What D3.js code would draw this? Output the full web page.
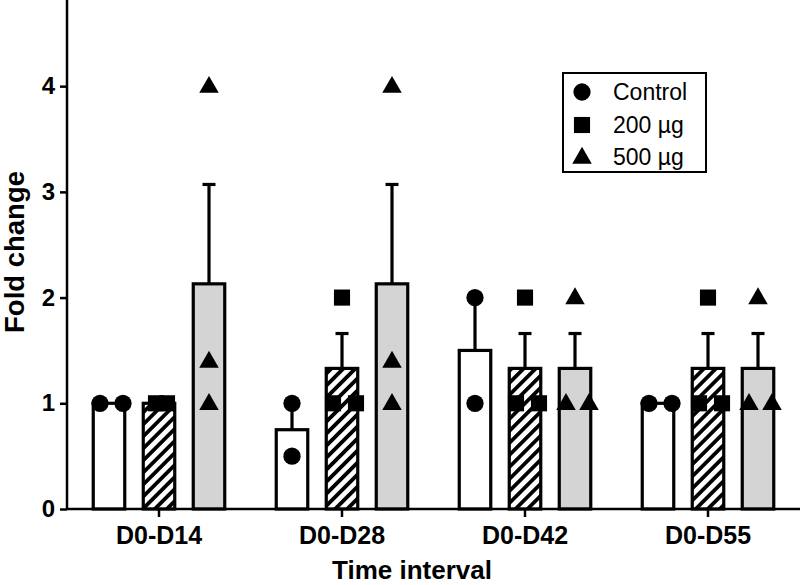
<!DOCTYPE html>
<html>
<head>
<meta charset="utf-8">
<script src="https://cdn.jsdelivr.net/npm/d3@7"></script>
<style>
  html, body { margin: 0; padding: 0; background: #fff; }
  svg { display: block; font-family: "Liberation Sans", Arial, sans-serif; }
</style>
</head>
<body>
<svg id="chart" width="800" height="585"></svg>
<script>
// ---------- data ----------
const categories = ["D0-D14", "D0-D28", "D0-D42", "D0-D55"];
const seriesNames = ["Control", "200 µg", "500 µg"];
const yTicks = [0, 1, 2, 3, 4];

const controlMean = [1.0, 0.75, 1.5, 1.0];
const dose200Mean = [1.0, 1.33, 1.33, 1.33];
const dose500Mean = [2.13, 2.13, 1.33, 1.33];

const controlErr = [0, 0.25, 0.5, 0];
const dose200Err = [0, 0.33, 0.33, 0.33];
const dose500Err = [0.94, 0.94, 0.33, 0.33];

const controlPts = [[1, 1], [1, 0.5], [2, 1], [1, 1]];
const dose200Pts = [[1, 1], [2, 1, 1], [2, 1, 1], [2, 1, 1]];
const dose500Pts = [[4, 1.4, 1], [4, 1.4, 1], [2, 1, 1], [2, 1, 1]];

const means = [controlMean, dose200Mean, dose500Mean];
const errs = [controlErr, dose200Err, dose500Err];
const pts = [controlPts, dose200Pts, dose500Pts];

// ---------- layout ----------
const svg = d3.select("#chart");
const W = 800, H = 585;
const x0 = 67, yBase = 509;

const x = d3.scaleBand().domain(categories).range([67.5, 799.5]).padding(0);
const xs = d3.scalePoint().domain(seriesNames).range([-50, 50]);
const y = d3.scaleLinear().domain([0, 4.815]).range([yBase, 0]);
const barW = 31.5;

const fills = ["#ffffff", "url(#hatch)", "#d4d4d4"];
const symbolTypes = [d3.symbolCircle, d3.symbolSquare, d3.symbolTriangle];
const symbolSizes = [235, 260, 165];

const defs = svg.append("defs");
const pat = defs.append("pattern")
  .attr("id", "hatch")
  .attr("patternUnits", "userSpaceOnUse")
  .attr("width", 8.5).attr("height", 8.5)
  .attr("patternTransform", "rotate(45)");
pat.append("rect").attr("width", 8.5).attr("height", 8.5).attr("fill", "#fff");
pat.append("rect").attr("x", 0).attr("width", 3.8).attr("height", 8.5).attr("fill", "#000");

// ---------- bars ----------
const barData = [];
categories.forEach((c, ci) => {
  seriesNames.forEach((s, si) => {
    barData.push({ c, s, si, mean: means[si][ci], err: errs[si][ci], pts: pts[si][ci] });
  });
});
const cx = d => x(d.c) + x.bandwidth() / 2 + xs(d.s);

svg.append("g").selectAll("rect").data(barData).join("rect")
  .attr("x", d => cx(d) - barW / 2)
  .attr("y", d => y(d.mean))
  .attr("width", barW)
  .attr("height", d => yBase - y(d.mean))
  .attr("fill", d => fills[d.si])
  .attr("stroke", "#000")
  .attr("stroke-width", 3.2);

// error bars (upper only)
const eg = svg.append("g").attr("stroke", "#000").attr("stroke-width", 3.2);
barData.filter(d => d.err > 0).forEach(d => {
  eg.append("line").attr("x1", cx(d)).attr("x2", cx(d))
    .attr("y1", y(d.mean)).attr("y2", y(d.mean + d.err));
  eg.append("line").attr("x1", cx(d) - 6.5).attr("x2", cx(d) + 6.5)
    .attr("y1", y(d.mean + d.err)).attr("y2", y(d.mean + d.err));
});

// points (spread duplicates horizontally)
const spreadOverride = { "D0-D14|200 µg": 11 };
const pointData = [];
barData.forEach(d => {
  const groups = d3.group(d.pts, v => v);
  const spread = spreadOverride[d.c + "|" + d.s] || 23;
  groups.forEach((arr, v) => {
    const n = arr.length;
    arr.forEach((_, k) => {
      const off = n > 1 ? (k - (n - 1) / 2) * spread + 2.5 : 0;
      pointData.push({ x: cx(d) + off, v, si: d.si });
    });
  });
});
svg.append("g").selectAll("path").data(pointData).join("path")
  .attr("transform", d => `translate(${d.x},${y(d.v) + (d.si === 2 ? 1 : 0)})`)
  .attr("d", d => d3.symbol().type(symbolTypes[d.si]).size(symbolSizes[d.si])())
  .attr("fill", "#000");

// ---------- axes ----------
const yAxis = svg.append("g").attr("transform", `translate(${x0},0)`)
  .call(d3.axisLeft(y).tickValues(yTicks).tickFormat(d3.format("d")).tickSize(7).tickPadding(5));
yAxis.select(".domain").attr("d", `M0,${yBase}V0`).attr("stroke-width", 2.5);
yAxis.selectAll(".tick line").attr("stroke-width", 2.5);
yAxis.selectAll(".tick text").attr("font-size", 24).attr("font-weight", "bold")
  .attr("font-family", "'Liberation Sans', Arial, sans-serif").attr("fill", "#000");

const xAxis = svg.append("g").attr("transform", `translate(0,${yBase})`)
  .call(d3.axisBottom(x).tickSize(8).tickPadding(9));
xAxis.select(".domain").attr("d", `M${x0},0H${W}`).attr("stroke-width", 2.5);
xAxis.selectAll(".tick line").attr("stroke-width", 2.5);
xAxis.selectAll(".tick text").attr("font-size", 25).attr("font-weight", "bold")
  .attr("font-family", "'Liberation Sans', Arial, sans-serif").attr("fill", "#000")
  .attr("dy", "0.71em");

// axis titles
svg.append("text").attr("x", 412).attr("y", 579)
  .attr("text-anchor", "middle").attr("font-size", 26).attr("font-weight", "bold")
  .text("Time interval");
svg.append("text").attr("transform", "translate(24,252) rotate(-90)")
  .attr("text-anchor", "middle").attr("font-size", 27.5).attr("font-weight", "bold")
  .text("Fold change");

// ---------- legend ----------
const lg = svg.append("g");
lg.append("rect").attr("x", 563).attr("y", 73).attr("width", 143).attr("height", 99)
  .attr("fill", "#fff").attr("stroke", "#000").attr("stroke-width", 2);
const rowY = [92, 125, 157];
seriesNames.forEach((s, i) => {
  lg.append("path").attr("transform", `translate(582,${rowY[i] + (i === 2 ? 1 : 0)})`)
    .attr("d", d3.symbol().type(symbolTypes[i]).size(symbolSizes[i])())
    .attr("fill", "#000");
  lg.append("text").attr("x", 613).attr("y", rowY[i] + 8)
    .attr("font-size", 23).text(s);
});
</script>
</body>
</html>
